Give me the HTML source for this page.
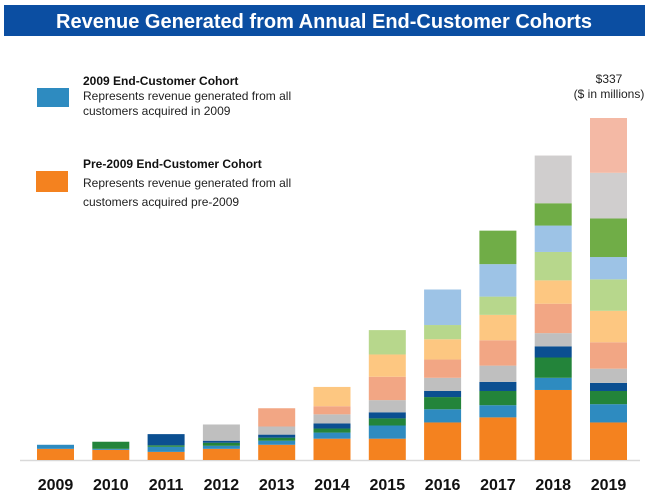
<!DOCTYPE html>
<html><head><meta charset="utf-8"><style>
body{margin:0;background:#fff;font-family:"Liberation Sans",sans-serif;}
#wrap{position:relative;width:649px;height:495px;overflow:hidden;}
</style></head><body>
<div id="wrap">
<svg id="chart" width="649" height="495">
  <rect x="4" y="5" width="641" height="31" fill="#0B4EA2"/>
  <text x="324" y="28" text-anchor="middle" fill="#fff" font-size="20" font-weight="bold" font-family="Liberation Sans, sans-serif">Revenue Generated from Annual End-Customer Cohorts</text>
  <g>
    <rect x="37" y="88" width="32" height="19" fill="#2E8BC0"/>
    <text x="83" y="85" font-size="12" font-weight="bold" fill="#111">2009 End-Customer Cohort</text>
    <text x="83" y="100" font-size="12" fill="#222">Represents revenue generated from all</text>
    <text x="83" y="115" font-size="12" fill="#222">customers acquired in 2009</text>
  </g>
  <g>
    <rect x="36" y="171" width="32" height="21" fill="#F4821F"/>
    <text x="83" y="168" font-size="12" font-weight="bold" fill="#111">Pre-2009 End-Customer Cohort</text>
    <text x="83" y="187" font-size="12" fill="#222">Represents revenue generated from all</text>
    <text x="83" y="206" font-size="12" fill="#222">customers acquired pre-2009</text>
  </g>
  <text x="609" y="83" text-anchor="middle" font-size="12" fill="#222">$337</text>
  <text x="609" y="98" text-anchor="middle" font-size="12" fill="#222">($ in millions)</text>
  <line x1="20" y1="460.5" x2="640" y2="460.5" stroke="#D9D9D9" stroke-width="1.5"/>
  <g id="bars"></g>
  <g id="xlabels"></g>
</svg>
</div>
<script>
const years = ["2009","2010","2011","2012","2013","2014","2015","2016","2017","2018","2019"];
const cohorts = ["pre-2009","2009","2010","2011","2012","2013","2014","2015","2016","2017","2018","2019"];
const cohortColors = ["#F4821F","#2E8BC0","#23843A","#0B4F91","#BFBFBF","#F2A684","#FDC781","#B7D78C","#9DC3E6","#70AD47","#D0CECE","#F4B9A5"];
// revenue per cohort ($M) for each year, index = cohort
const v2009 = [11,4];
const v2010 = [10,1,7];
const v2011 = [8,5,1.5,11];
const v2012 = [11,3,3,2,16];
const v2013 = [15,4,3,3,8,18];
const v2014 = [21,6,4,5,9,8,19];
const v2015 = [21,13,7,6,12,23,22,24];
const v2016 = [37,13,12,6,13,18,20,14,35];
const v2017 = [42,12,14,9,16,25,25,18,32,33];
const v2018 = [69,12,20,11,13,29,23,28,26,22,47];
const v2019 = [37,18,13,8,14,26,31,31,22,38,45,54];
const series = [v2009,v2010,v2011,v2012,v2013,v2014,v2015,v2016,v2017,v2018,v2019];

const baseY = 460, plotH = 342, maxV = 337;
const x0 = 55.5, step = 55.3, barW = 37;
function xScale(i){ return x0 + i*step; }
function yLen(v){ return v/maxV*plotH; }

const NS = "http://www.w3.org/2000/svg";
const gb = document.getElementById("bars");
const gl = document.getElementById("xlabels");
series.forEach((vals, i) => {
  let y = baseY;
  const g = document.createElementNS(NS,"g");
  
  
  vals.forEach((v, c) => {
    const h = yLen(v);
    y -= h;
    const r = document.createElementNS(NS,"rect");
    r.setAttribute("x", xScale(i) - barW/2);
    r.setAttribute("y", y);
    r.setAttribute("width", barW);
    r.setAttribute("height", h);
    r.setAttribute("fill", cohortColors[c]);
    
    
    g.appendChild(r);
  });
  gb.appendChild(g);
  const t = document.createElementNS(NS,"text");
  t.setAttribute("x", xScale(i));
  t.setAttribute("y", 490);
  t.setAttribute("text-anchor","middle");
  t.setAttribute("font-size","16");
  t.setAttribute("font-weight","bold");
  t.setAttribute("fill","#111");
  t.textContent = years[i];
  
  
  gl.appendChild(t);
});
</script>
</body></html>
